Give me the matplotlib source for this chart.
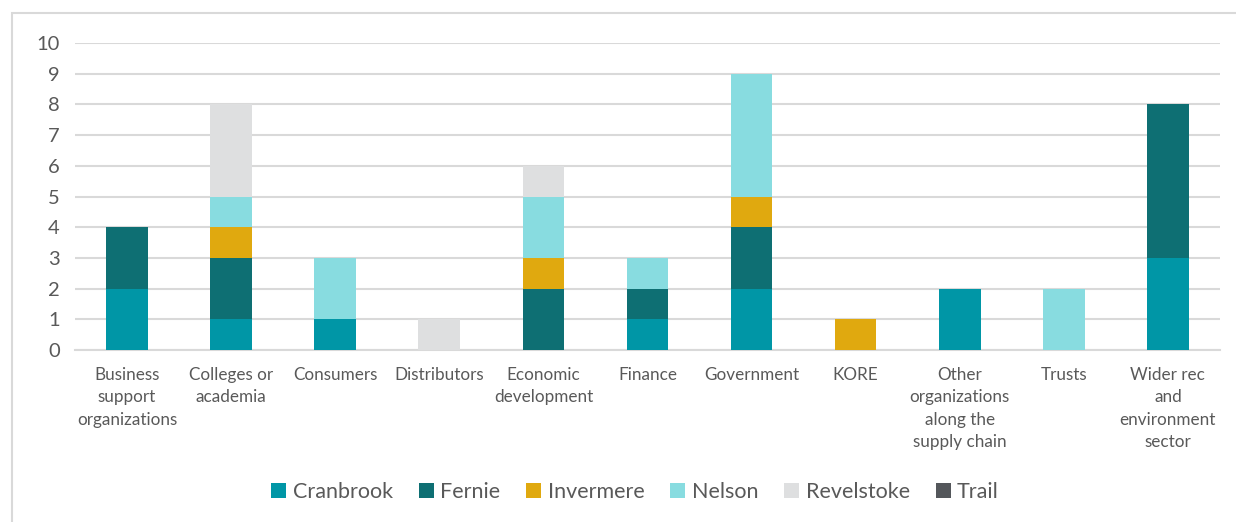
import matplotlib.pyplot as plt
from matplotlib.patches import Rectangle
import numpy as np

plt.rcParams['font.family'] = ['Lato', 'DejaVu Sans']

categories = ["Business\nsupport\norganizations", "Colleges or\nacademia", "Consumers",
              "Distributors", "Economic\ndevelopment", "Finance", "Government", "KORE",
              "Other\norganizations\nalong the\nsupply chain", "Trusts",
              "Wider rec\nand\nenvironment\nsector"]

cranbrook = [2, 1, 1, 0, 0, 1, 2, 0, 2, 0, 3]
fernie = [2, 2, 0, 0, 2, 1, 2, 0, 0, 0, 5]
invermere = [0, 1, 0, 0, 1, 0, 1, 1, 0, 0, 0]
nelson = [0, 1, 2, 0, 2, 1, 4, 0, 0, 2, 0]
revelstoke = [0, 3, 0, 1, 1, 0, 0, 0, 0, 0, 0]
trail = [0, 0, 0, 0, 0, 0, 0, 0, 0, 0, 0]

series = [("Cranbrook", cranbrook, "#0096A6"),
          ("Fernie", fernie, "#0E6F73"),
          ("Invermere", invermere, "#E0A90F"),
          ("Nelson", nelson, "#88DCE0"),
          ("Revelstoke", revelstoke, "#DEDFE0"),
          ("Trail", trail, "#54575B")]

text_col = "#595959"
grid_col = "#D9D9D9"

fig = plt.figure(figsize=(12.36, 5.22), dpi=100)
ax = fig.add_axes([0.0607, 0.3295, 0.9263, 0.5881])

# outer chart border (only top and left visible in the crop)
fig.patches.append(Rectangle((12 / 1236, -0.1), 1.2, 1 - 13 / 522 + 0.1,
                             transform=fig.transFigure, fill=False,
                             edgecolor=grid_col, linewidth=1.5))

x = np.arange(len(categories))
bottom = np.zeros(len(categories))
handles = []
for name, vals, col in series:
    b = ax.bar(x, vals, 0.4, bottom=bottom, color=col, label=name, zorder=3)
    handles.append(b)
    bottom += np.array(vals)

ax.set_xlim(-0.5, len(categories) - 0.5)
ax.set_ylim(0, 10)
ax.set_yticks(range(0, 11))
ax.yaxis.grid(True, color=grid_col, linewidth=1.5, zorder=0)
ax.set_axisbelow(True)
for s in ["top", "right", "left"]:
    ax.spines[s].set_visible(False)
ax.spines["bottom"].set_color(grid_col)
ax.spines["bottom"].set_linewidth(1.5)
ax.tick_params(axis='y', length=0, labelsize=14.5, labelcolor=text_col, pad=11)
ax.tick_params(axis='x', length=0, labelsize=12.3, labelcolor=text_col, pad=12)
ax.set_xticks(x)
ax.set_xticklabels(categories, linespacing=1.5, va='top')

fig.legend(handles=handles, loc='center', bbox_to_anchor=(635 / 1236, 1 - 492 / 522),
           ncol=6, frameon=False, fontsize=15.5, labelcolor=text_col,
           handlelength=0.7, handleheight=0.7, handletextpad=0.3, columnspacing=1.2)

plt.savefig("out.png", dpi=100)
